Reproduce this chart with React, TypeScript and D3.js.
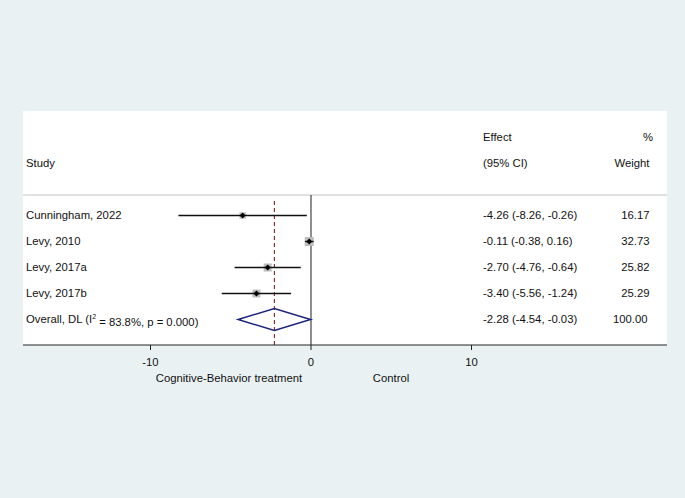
import React from "react";
import * as d3 from "d3";

const studies = ["Cunningham, 2022", "Levy, 2010", "Levy, 2017a", "Levy, 2017b"];
const effects = [-4.26, -0.11, -2.7, -3.4];
const lower = [-8.26, -0.38, -4.76, -5.56];
const upper = [-0.26, 0.16, -0.64, -1.24];
const weights = [16.17, 32.73, 25.82, 25.29];
const overallEffect = -2.28;
const overallLower = -4.54;
const overallUpper = -0.03;
const overallWeight = 100.0;
const xTicks = [-10, 0, 10];
const leftLabel = "Cognitive-Behavior treatment";
const rightLabel = "Control";

const W = 685;
const H = 498;
const FONT = "'Liberation Sans', Arial, Helvetica, sans-serif";

const locale = d3.formatLocale({
  decimal: ".",
  thousands: ",",
  grouping: [3],
  currency: ["", ""],
  minus: "-",
});

export default function App() {
  const x = d3.scaleLinear().domain([-10, 10]).range([150.5, 471.5]);
  const rowKeys = ["h1", "h2", "blank", ...studies, "overall"];
  const y = d3.scalePoint<string>().domain(rowKeys).range([137.5, 319.5]);
  const boxScale = d3.scaleSqrt().domain([0, 32.73]).range([0, 9]);
  const fmt = locale.format(".2f");
  const tfmt = locale.format("d");

  const panelL = 23;
  const panelR = 667;
  const panelT = 111;
  const axisY = 345;
  const sepY = 195;
  const effX = 483;
  const wX = 649.5;
  const fs = 11.3;

  const oy = y("overall")!;
  const dh = 11;
  const diamond = `M${x(overallLower)},${oy} L${x(overallEffect)},${oy - dh} L${x(overallUpper)},${oy} L${x(overallEffect)},${oy + dh} Z`;

  return (
    <svg width={W} height={H} style={{ position: "fixed", left: 0, top: 0 }} fontFamily={FONT} fontSize={fs}>
      <rect x={0} y={0} width={W} height={H} fill="#e9f1f3" />
      <rect x={panelL} y={panelT} width={panelR - panelL} height={axisY - panelT} fill="#ffffff" />

      {/* headers */}
      <text x={26} y={y("h2")!} dy="0.35em" fill="#111">Study</text>
      <text x={effX} y={y("h1")!} dy="0.35em" fill="#111">Effect</text>
      <text x={effX} y={y("h2")!} dy="0.35em" fill="#111">(95% CI)</text>
      <text x={653} y={y("h1")!} dy="0.35em" textAnchor="end" fill="#111">%</text>
      <text x={wX} y={y("h2")!} dy="0.35em" textAnchor="end" fill="#111">Weight</text>

      <line x1={panelL} x2={panelR} y1={sepY} y2={sepY} stroke="#c4c4c4" strokeWidth={1} />

      {/* null line */}
      <line x1={x(0)} x2={x(0)} y1={sepY} y2={axisY} stroke="#444" strokeWidth={1.2} />
      {/* overall dashed line */}
      <line x1={x(overallEffect)} x2={x(overallEffect)} y1={sepY + 6} y2={axisY} stroke="#8b2323" strokeWidth={1.1} strokeDasharray="4,3" />

      {studies.map((s, i) => {
        const yy = y(s)!;
        const b = boxScale(weights[i]);
        const cx = x(effects[i]);
        return (
          <g key={s}>
            <text x={26} y={yy} dy="0.35em" fill="#111">{s}</text>
            <rect x={cx - b / 2} y={yy - b / 2} width={b} height={b} fill="#bdbdbd" />
            <line x1={x(lower[i])} x2={x(upper[i])} y1={yy} y2={yy} stroke="#111" strokeWidth={1.4} />
            <path d={`M${cx - 3},${yy} L${cx},${yy - 3} L${cx + 3},${yy} L${cx},${yy + 3} Z`} fill="#000" />
            <text x={effX} y={yy} dy="0.35em" fill="#111">
              {`${fmt(effects[i])} (${fmt(lower[i])}, ${fmt(upper[i])})`}
            </text>
            <text x={wX} y={yy} dy="0.35em" textAnchor="end" fill="#111">{fmt(weights[i])}</text>
          </g>
        );
      })}

      {/* overall */}
      <text x={26} y={oy} dy="0.35em" fill="#111">
        Overall, DL (I<tspan fontSize={7} dy="-0.6em">2</tspan>
        <tspan dy="0.6em">{"\u00a0= 83.8%, p = 0.000)"}</tspan>
      </text>
      <path d={diamond} fill="none" stroke="#1a237e" strokeWidth={1.5} />
      <text x={effX} y={oy} dy="0.35em" fill="#111">
        {`${fmt(overallEffect)} (${fmt(overallLower)}, ${fmt(overallUpper)})`}
      </text>
      <text x={647.5} y={oy} dy="0.35em" textAnchor="end" fill="#111">{fmt(overallWeight)}</text>

      {/* axis */}
      <line x1={panelL} x2={panelR} y1={axisY} y2={axisY} stroke="#222" strokeWidth={1} />
      {xTicks.map((t) => (
        <g key={t}>
          <line x1={x(t)} x2={x(t)} y1={axisY} y2={axisY + 5} stroke="#222" strokeWidth={1} />
          <text x={x(t)} y={362.5} dy="0.35em" textAnchor="middle" fill="#111">{tfmt(t)}</text>
        </g>
      ))}
      <text x={229} y={378} dy="0.35em" textAnchor="middle" fill="#111">{leftLabel}</text>
      <text x={391} y={378} dy="0.35em" textAnchor="middle" fill="#111">{rightLabel}</text>
    </svg>
  );
}
